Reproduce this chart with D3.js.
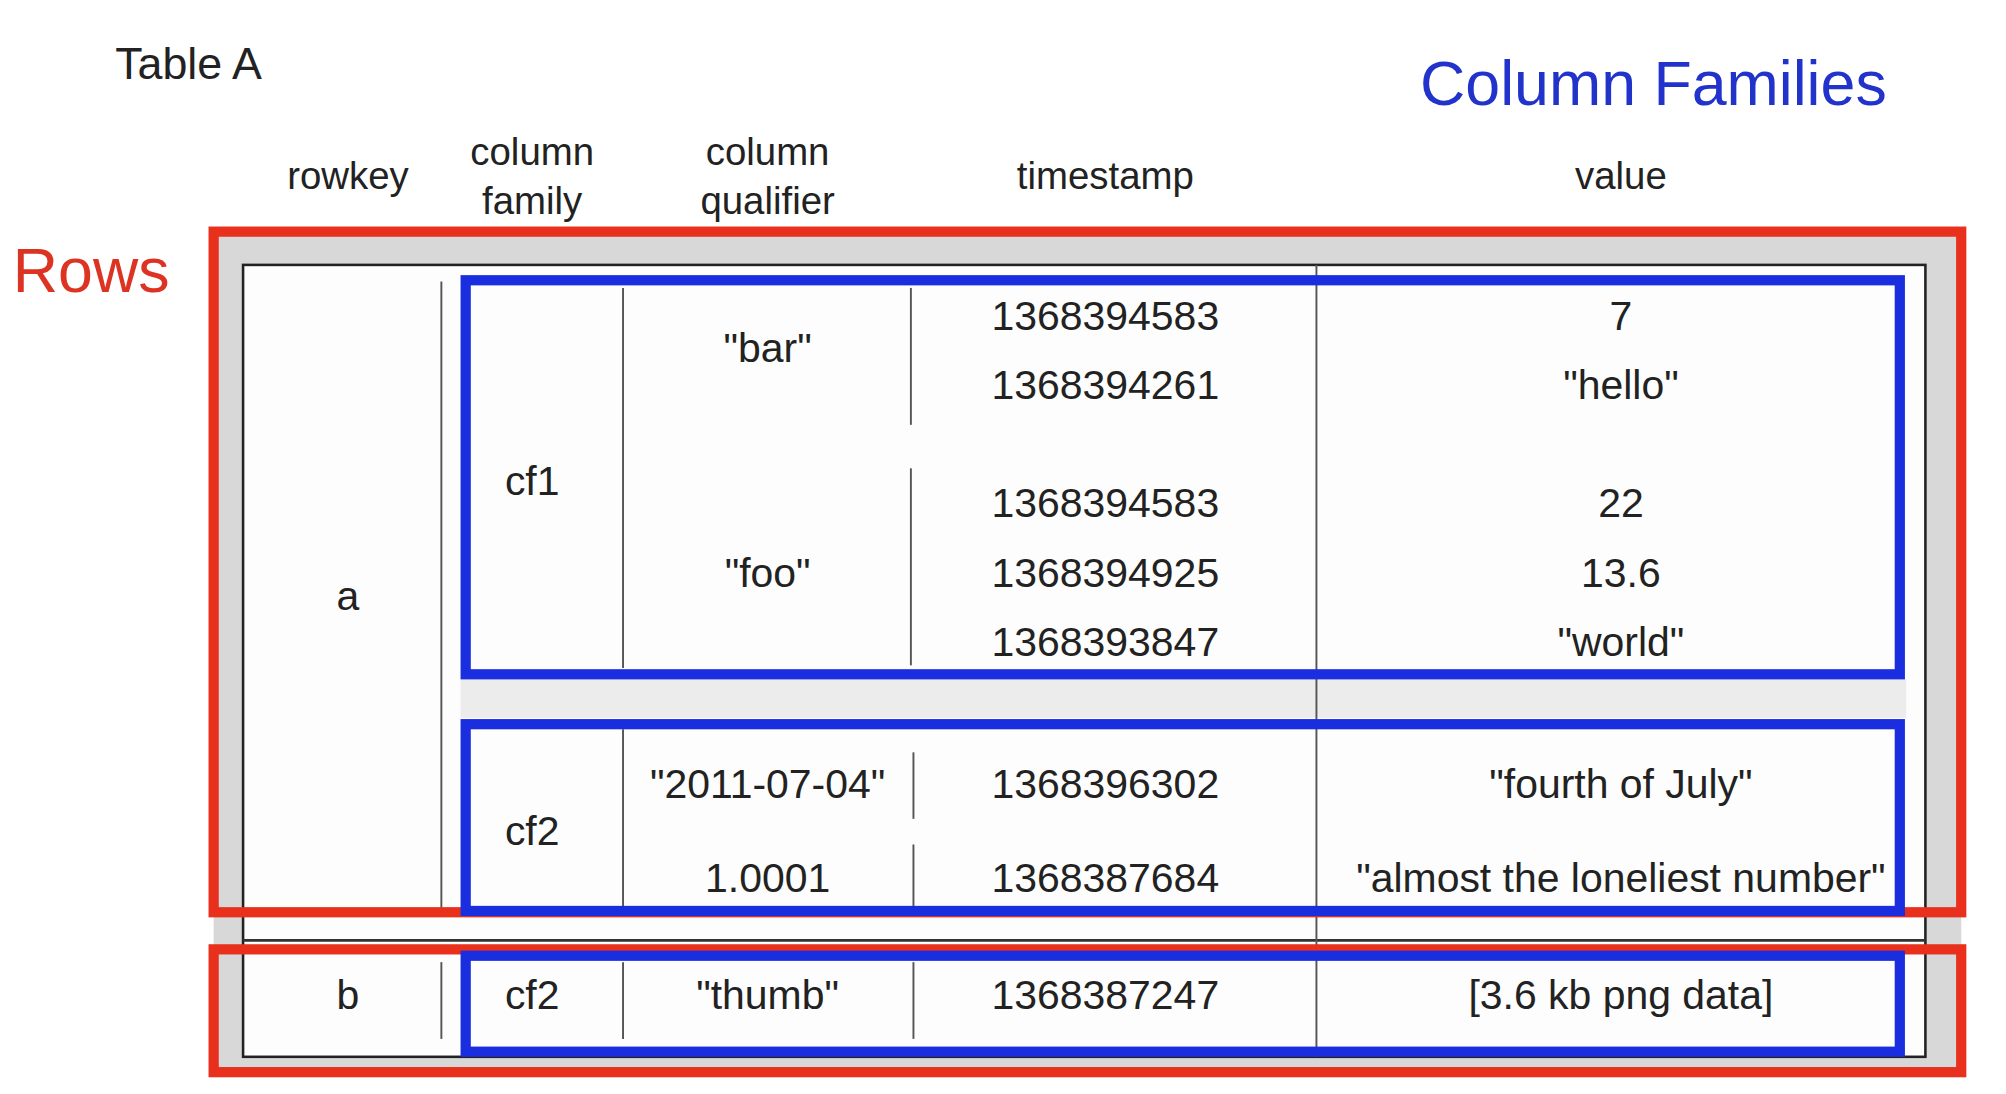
<!DOCTYPE html>
<html><head><meta charset="utf-8">
<script src="https://cdn.jsdelivr.net/npm/d3@7"></script>
<style>body{margin:0;background:#fff}text{font-family:"Liberation Sans",Arial,sans-serif}</style>
</head><body><div id="chart"></div>
<script>
// table content
var columns = ["rowkey", "column\nfamily", "column\nqualifier", "timestamp", "value"];
var timestamps = ["1368394583", "1368394261", "1368394583", "1368394925", "1368393847", "1368396302", "1368387684", "1368387247"];
var values = ["7", "\"hello\"", "22", "13.6", "\"world\"", "\"fourth of July\"", "\"almost the loneliest number\"", "[3.6 kb png data]"];
var qualifiers = [{q: "\"bar\"", r: [0, 1]}, {q: "\"foo\"", r: [2, 4]}, {q: "\"2011-07-04\"", r: [5, 5]}, {q: "1.0001", r: [6, 6]}, {q: "\"thumb\"", r: [7, 7]}];
var families = [{f: "cf1", r: [0, 4]}, {f: "cf2", r: [5, 6]}, {f: "cf2", r: [7, 7]}];
var rowkeys = [{k: "a", r: [0, 6]}, {k: "b", r: [7, 7]}];

var W = 1568, H = 855;
var svg = d3.select("#chart").append("svg")
    .attr("width", 2006).attr("height", 1094)
    .attr("viewBox", `0 0 ${W} ${H}`);

var x = d3.scaleOrdinal().domain(d3.range(5)).range([272, 416, 600, 864, 1267]);
// vertical positions of the eight cell lines
var lineY = d3.scaleOrdinal().domain(d3.range(8)).range([247, 301, 393, 448, 502, 613, 686, 778]);
var mid = r => (lineY(r[0]) + lineY(r[1])) / 2;

// grey frame inside the red rows box
svg.append("rect").attr("x", 167).attr("y", 181).attr("width", 1366).attr("height", 657).attr("fill", "#d8d8d8");
svg.append("rect").attr("x", 190).attr("y", 207).attr("width", 1315).attr("height", 619)
    .attr("fill", "#fdfdfd").attr("stroke", "#222").attr("stroke-width", 2);
svg.append("rect").attr("x", 360).attr("y", 531).attr("width", 1130).attr("height", 30).attr("fill", "#ececec");
svg.append("line").attr("x1", 190).attr("x2", 1505).attr("y1", 735).attr("y2", 735).attr("stroke", "#333").attr("stroke-width", 2);

// grid lines
var g = svg.append("g").attr("stroke", "#555").attr("stroke-width", 1.5);
[[345, 220, 712], [345, 752, 812], [487, 225, 522], [487, 570, 712], [487, 752, 812],
 [712, 225, 332], [712, 366, 520], [714, 588, 640], [714, 660, 712], [714, 752, 812], [1029, 207, 826]]
  .forEach(function(l) { g.append("line").attr("x1", l[0]).attr("x2", l[0]).attr("y1", l[1]).attr("y2", l[2]); });

// headers
svg.append("text").attr("x", 90).attr("y", 62).attr("font-size", 35).attr("fill", "#222").text("Table A");
svg.append("text").attr("x", 1110).attr("y", 82).attr("font-size", 49).attr("fill", "#2233cc").text("Column Families");
svg.append("text").attr("x", 10).attr("y", 228).attr("font-size", 49).attr("fill", "#dd3322").text("Rows");
columns.forEach(function(c, i) {
  var parts = c.split("\n");
  var t = svg.append("text").attr("x", x(i)).attr("text-anchor", "middle").attr("font-size", 30).attr("fill", "#222")
      .attr("y", parts.length > 1 ? 129 : 148);
  parts.forEach(function(p, j) { t.append("tspan").attr("x", x(i)).attr("dy", j ? 38 : 0).text(p); });
});

function cell(txt, cx, cy) {
  svg.append("text").attr("x", cx).attr("y", cy + 11).attr("text-anchor", "middle")
     .attr("font-size", 32).attr("fill", "#222").text(txt);
}
timestamps.forEach((t, i) => cell(t, x(3), lineY(i)));
values.forEach((v, i) => cell(v, x(4), lineY(i)));
qualifiers.forEach(q => cell(q.q, x(2), q.r[0] === 0 ? 272 : mid(q.r)));
families.forEach(f => cell(f.f, x(1), f.f === "cf1" ? 376 : mid(f.r)));
rowkeys.forEach(k => cell(k.k, x(0), k.k === "a" ? 466 : mid(k.r)));

// highlight boxes
var box = (x0, y0, x1, y1, c) => svg.append("rect").attr("x", x0).attr("y", y0).attr("width", x1 - x0).attr("height", y1 - y0)
    .attr("fill", "none").attr("stroke", c).attr("stroke-width", 8);
box(167, 181, 1533, 713, "#e8301c");
box(167, 742, 1533, 838, "#e8301c");
box(364, 219, 1485, 527, "#1a2ee0");
box(364, 566, 1485, 712, "#1a2ee0");
box(364, 747, 1485, 822, "#1a2ee0");
</script></body></html>
